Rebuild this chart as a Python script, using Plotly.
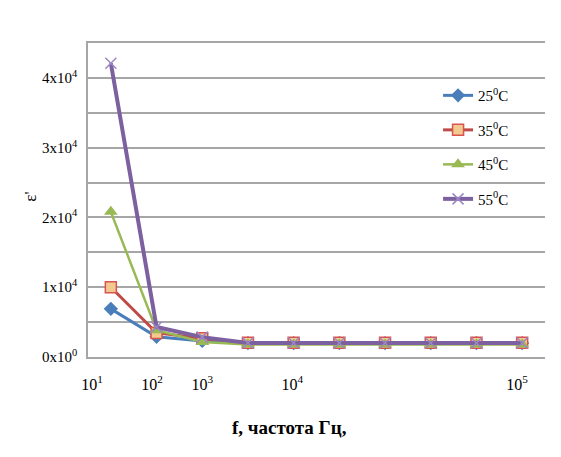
import plotly.graph_objects as go

# ---- data ----
categories = list(range(10))  # ten measured frequencies (category axis)
eps_25 = [6900, 2900, 2300, 2000, 2000, 2000, 2000, 2000, 2000, 2000]
eps_35 = [10000, 3450, 2700, 2050, 2050, 2050, 2050, 2050, 2050, 2050]
eps_45 = [20800, 3850, 2150, 1800, 1800, 1800, 1800, 1800, 1800, 1800]
eps_55 = [42100, 4300, 2850, 2000, 2000, 2000, 2000, 2000, 2000, 2000]
series_names = ["25<sup>0</sup>C", "35<sup>0</sup>C", "45<sup>0</sup>C", "55<sup>0</sup>C"]

x_tick_labels = ["10<sup>1</sup>", "10<sup>2</sup>", "10<sup>3</sup>", "10<sup>4</sup>", "10<sup>5</sup>"]
x_tick_pos = [-0.41, 0.9, 2.0, 3.97, 8.89]
y_tick_vals = [0, 10000, 20000, 30000, 40000]
y_tick_labels = ["0x10<sup>0</sup>", "1x10<sup>4</sup>", "2x10<sup>4</sup>",
                 "3x10<sup>4</sup>", "4x10<sup>4</sup>"]

x_title = "f, частота Гц,"
y_title = "ε'"

SERIF = "Liberation Serif, Times New Roman, serif"
GRID = "#A6A6A6"

fig = go.Figure()

styles = [
    dict(line=dict(color="#4A7EBB", width=3),
         marker=dict(symbol="diamond", size=11, color="#4A7EBB")),
    dict(line=dict(color="#BE4B48", width=3),
         marker=dict(symbol="square", size=11, color="#F2C98F",
                     line=dict(color="#D9534F", width=1.5))),
    dict(line=dict(color="#98B954", width=2.5),
         marker=dict(symbol="triangle-up", size=12, color="#98B954")),
    dict(line=dict(color="#7D60A0", width=4),
         marker=dict(symbol="x-thin", size=11, color="#9C86C4",
                     line=dict(color="#9C86C4", width=1.5))),
]

for name, vals, st in zip(series_names, [eps_25, eps_35, eps_45, eps_55], styles):
    fig.add_trace(go.Scatter(x=categories, y=vals, name=name, mode="lines+markers",
                             legendgroup=name, **st))

fig.update_layout(
    width=561, height=457,
    margin=dict(l=80, r=24, t=35, b=108),
    paper_bgcolor="white", plot_bgcolor="white",
    font=dict(family=SERIF, color="#000000", size=15),
    showlegend=True,
    legend=dict(x=0.766, y=0.885, xanchor="left", yanchor="top",
                bgcolor="rgba(0,0,0,0)", traceorder="grouped", tracegroupgap=12,
                font=dict(family=SERIF, size=15), itemwidth=30),
    xaxis=dict(range=[-0.5, 9.5], tickmode="array", tickvals=x_tick_pos,
               ticktext=x_tick_labels, showgrid=False, zeroline=False,
               showline=True, linecolor=GRID, linewidth=1.5, mirror=True,
               ticks="", ticklabelstandoff=12, tickfont=dict(family=SERIF, size=16)),
    yaxis=dict(range=[0, 45000], tickmode="array", tickvals=y_tick_vals,
               ticktext=y_tick_labels, showgrid=True, gridcolor=GRID, gridwidth=1.5,
               minor=dict(tick0=0, dtick=5000, showgrid=True, gridcolor=GRID,
                          gridwidth=1.5, ticks=""),
               zeroline=False, showline=True, linecolor=GRID, linewidth=1.5,
               ticks="", ticklabelstandoff=6, tickfont=dict(family=SERIF, size=15)),
    annotations=[
        dict(text="<b>" + x_title + "</b>", xref="paper", yref="paper", x=0.442, y=-0.226,
             showarrow=False, font=dict(family=SERIF, size=19, color="#000"),
             xanchor="center", yanchor="middle"),
        dict(text=y_title, xref="paper", yref="paper", x=-0.125, y=0.51,
             showarrow=False, textangle=-90, font=dict(family=SERIF, size=17, color="#000"),
             xanchor="center", yanchor="middle"),
    ],
    shapes=[
        dict(type="line", xref="paper", yref="paper", x0=-0.1794, x1=-0.1794,
             y0=1.1178, y1=-0.4, line=dict(color="#8C8C8C", width=1.5)),
        dict(type="line", xref="paper", yref="paper", x0=-0.1794, x1=1.1,
             y0=1.1178, y1=1.1178, line=dict(color="#8C8C8C", width=1.5)),
    ],
)

fig.write_html("out.html")
